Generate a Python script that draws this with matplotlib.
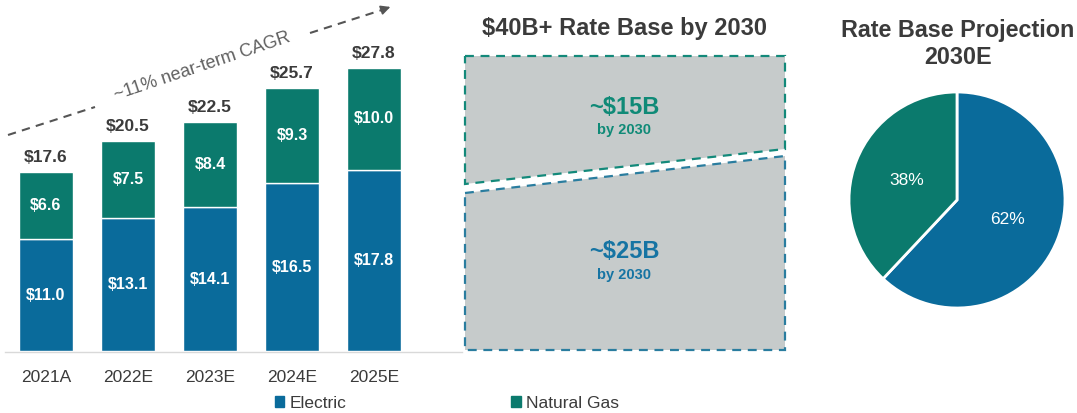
import matplotlib
matplotlib.use("Agg")
import matplotlib.pyplot as plt
from matplotlib.patches import Polygon, Patch

plt.rcParams['font.family'] = ['Liberation Sans', 'DejaVu Sans']

# data
years = ['2021A', '2022E', '2023E', '2024E', '2025E']
electric = [11.0, 13.1, 14.1, 16.5, 17.8]
gas = [6.6, 7.5, 8.4, 9.3, 10.0]
totals = [17.6, 20.5, 22.5, 25.7, 27.8]
pie_labels = ['Electric', 'Natural Gas']
pie_share = [62, 38]

c_elec = '#0a6b9b'
c_gas = '#0b7a6d'
c_text = '#3b3b3b'

W, H = 1077, 413
fig = plt.figure(figsize=(W / 100, H / 100), dpi=100)

# overlay in pixel coords for the decorative bits
ov = fig.add_axes([0, 0, 1, 1])
ov.set_xlim(0, W)
ov.set_ylim(H, 0)
ov.axis('off')

# --- stacked bars ---
base_px = 351
ax = fig.add_axes([0, (H - base_px) / H, 420 / W, base_px / H])
ax.patch.set_alpha(0)
x = list(range(len(years)))
ax.set_xlim(-46 / 82, (420 - 46) / 82)
ax.set_ylim(0, base_px / 10.18)
b1 = ax.bar(x, electric, width=0.65, color=c_elec, edgecolor='white', linewidth=1)
b2 = ax.bar(x, gas, width=0.65, bottom=electric, color=c_gas, edgecolor='white', linewidth=1)
for i in x:
    ax.text(i, electric[i] / 2, '$%.1f' % electric[i], ha='center', va='center',
            color='white', fontsize=11.5, fontweight='bold')
    ax.text(i, electric[i] + gas[i] / 2, '$%.1f' % gas[i], ha='center', va='center',
            color='white', fontsize=11.5, fontweight='bold')
    ax.annotate('$%.1f' % totals[i], (i, electric[i] + gas[i]), xytext=(0, 5),
                textcoords='offset points', ha='center', va='bottom',
                color=c_text, fontsize=12.5, fontweight='bold')
ax.set_xticks(x)
ax.set_xticklabels(years, fontsize=12.5, color=c_text)
ax.tick_params(axis='x', length=0, pad=14)
ax.set_yticks([])
for s in ['top', 'right', 'left', 'bottom']:
    ax.spines[s].set_visible(False)
ov.plot([5, 462], [base_px + 0.5, base_px + 0.5], color='#d9d9d9', lw=1, zorder=0)

# CAGR arrow
ov.plot([8, 95], [135, 107], color='#555555', lw=1.5, ls=(0, (4, 3)))
ov.plot([310, 385], [33, 9], color='#555555', lw=1.5, ls=(0, (4, 3)))
ov.annotate('', xy=(393, 6), xytext=(383, 9.5),
            arrowprops=dict(arrowstyle='-|>', color='#555555', lw=1.2, mutation_scale=14))
ov.text(202, 66, '~11% near-term CAGR', rotation=18.5, ha='center', va='center',
        fontsize=13, color='#606060', rotation_mode='anchor')

# --- middle panel ---
ov.text(624, 29, '$40B+ Rate Base by 2030', ha='center', va='center',
        fontsize=17, fontweight='bold', color=c_text)
top_box = Polygon([[465, 56], [785, 56], [785, 149], [465, 184]], closed=True,
                  facecolor='#c6cbcb', edgecolor='#13897a', lw=1.6, ls=(0, (4, 3)))
bot_box = Polygon([[465, 193], [785, 156], [785, 350], [465, 350]], closed=True,
                  facecolor='#c6cbcb', edgecolor='#2a7d9f', lw=1.6, ls=(0, (4, 3)))
ov.add_patch(top_box)
ov.add_patch(bot_box)
ov.text(624, 107, '~$15B', ha='center', va='center', fontsize=17, fontweight='bold', color='#0f8a77')
ov.text(624, 130, 'by 2030', ha='center', va='center', fontsize=10.5, fontweight='bold', color='#0f8a77')
ov.text(624, 252, '~$25B', ha='center', va='center', fontsize=17, fontweight='bold', color='#1674a3')
ov.text(624, 275, 'by 2030', ha='center', va='center', fontsize=10.5, fontweight='bold', color='#1674a3')

# --- pie ---
ov.text(958, 44, 'Rate Base Projection\n2030E', ha='center', va='center',
        fontsize=16.8, fontweight='bold', color=c_text, linespacing=1.2)
r = 108
cx, cy = 957, 200
pax = fig.add_axes([(cx - r) / W, (H - cy - r) / H, 2 * r / W, 2 * r / H])
pax.pie(pie_share, colors=[c_elec, c_gas], startangle=90, counterclock=False,
        autopct='%d%%', pctdistance=0.5,
        wedgeprops=dict(edgecolor='white', linewidth=2),
        textprops=dict(color='white', fontsize=12.5))
pax.set_xlim(-1, 1)
pax.set_ylim(-1, 1)

# legend
handles = [Patch(color=c_elec), Patch(color=c_gas)]
fig.legend(handles, pie_labels, loc='center', bbox_to_anchor=(447 / W, 1 - 403 / H),
           ncol=2, frameon=False, handlelength=0.55, handleheight=0.55, handletextpad=0.3,
           columnspacing=9.5, fontsize=12.5, labelcolor=c_text)

fig.savefig('out.png', dpi=100)
